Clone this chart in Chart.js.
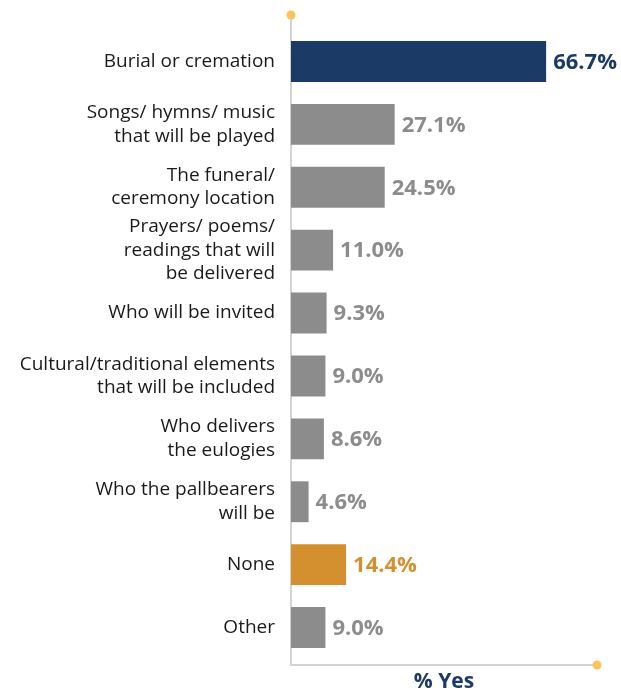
<!DOCTYPE html>
<html>
<head>
<meta charset="utf-8">
<script src="https://cdn.jsdelivr.net/npm/chart.js@4/dist/chart.umd.min.js"></script>
<style>
  html, body { margin: 0; padding: 0; background: #ffffff; }
  #wrap { position: relative; width: 621px; height: 692px; }
</style>
</head>
<body>
<div id="wrap"><canvas id="chart" width="621" height="692"></canvas></div>
<script>
// Funeral aspects planned in advance (% Yes)
const categories = [
  ['Burial or cremation'],
  ['Songs/ hymns/ music', 'that will be played'],
  ['The funeral/', 'ceremony location'],
  ['Prayers/ poems/', 'readings that will', 'be delivered'],
  ['Who will be invited'],
  ['Cultural/traditional elements', 'that will be included'],
  ['Who delivers', 'the eulogies'],
  ['Who the pallbearers', 'will be'],
  ['None'],
  ['Other']
];
const percentYes = [66.7, 27.1, 24.5, 11.0, 9.3, 9.0, 8.6, 4.6, 14.4, 9.0];
const barColors = ['#1c3a66', '#8c8c8c', '#8c8c8c', '#8c8c8c', '#8c8c8c',
                   '#8c8c8c', '#8c8c8c', '#8c8c8c', '#d4902f', '#8c8c8c'];
const axisTitle = '% Yes';

const AXIS_GREY = '#d3d3d3';
const DOT_COLOR = '#fcc35a';

// Value labels drawn at the end of each bar, in the bar's colour
const valueLabels = {
  id: 'valueLabels',
  afterDatasetsDraw(chart) {
    const ctx = chart.ctx;
    const meta = chart.getDatasetMeta(0);
    ctx.save();
    ctx.font = 'bold 22px "Open Sans", sans-serif';
    ctx.textAlign = 'left';
    ctx.textBaseline = 'middle';
    meta.data.forEach((bar, i) => {
      ctx.fillStyle = barColors[i];
      ctx.fillText(percentYes[i].toFixed(1) + '%', bar.x + 7, bar.y + 1);
    });
    ctx.restore();
  }
};

// L-shaped axis frame with round dots at both ends
const axisFrame = {
  id: 'axisFrame',
  beforeDatasetsDraw(chart) {
    const { ctx, chartArea } = chart;
    const x0 = chartArea.left;
    const yTop = chartArea.top - 15;
    const yBase = chartArea.bottom + 6;
    const xEnd = chartArea.right;
    ctx.save();
    ctx.strokeStyle = AXIS_GREY;
    ctx.lineWidth = 2;
    ctx.beginPath();
    ctx.moveTo(x0, yTop);
    ctx.lineTo(x0, yBase);
    ctx.lineTo(xEnd, yBase);
    ctx.stroke();
    ctx.fillStyle = DOT_COLOR;
    ctx.beginPath();
    ctx.arc(x0, yTop, 4.5, 0, Math.PI * 2);
    ctx.fill();
    ctx.beginPath();
    ctx.arc(xEnd, yBase, 4.5, 0, Math.PI * 2);
    ctx.fill();
    ctx.restore();
  }
};

new Chart(document.getElementById('chart'), {
  type: 'bar',
  data: {
    labels: categories,
    datasets: [{
      data: percentYes,
      backgroundColor: barColors,
      borderWidth: 0,
      categoryPercentage: 1.0,
      barPercentage: 0.65
    }]
  },
  options: {
    indexAxis: 'y',
    responsive: false,
    animation: false,
    layout: { padding: { top: 30, right: 24, bottom: 0, left: 0 } },
    plugins: {
      legend: { display: false },
      tooltip: { enabled: false }
    },
    scales: {
      x: {
        min: 0,
        max: 80,
        grid: { display: false, drawTicks: false },
        border: { display: false },
        ticks: { display: false },
        title: {
          display: true,
          text: axisTitle,
          color: '#1c3a66',
          font: { family: '"Open Sans", sans-serif', size: 21, weight: 'bold', lineHeight: 1.0 },
          padding: { top: 0, bottom: -1 }
        },
        afterFit(scale) { scale.height = 33; }
      },
      y: {
        grid: { display: false, drawTicks: false },
        border: { display: false },
        ticks: {
          autoSkip: false,
          color: '#1a1a1a',
          padding: 16,
          font: { family: '"Open Sans", sans-serif', size: 19, lineHeight: 1.24 }
        },
        afterFit(scale) { scale.width = 291; }
      }
    }
  },
  plugins: [axisFrame, valueLabels]
});
</script>
</body>
</html>
